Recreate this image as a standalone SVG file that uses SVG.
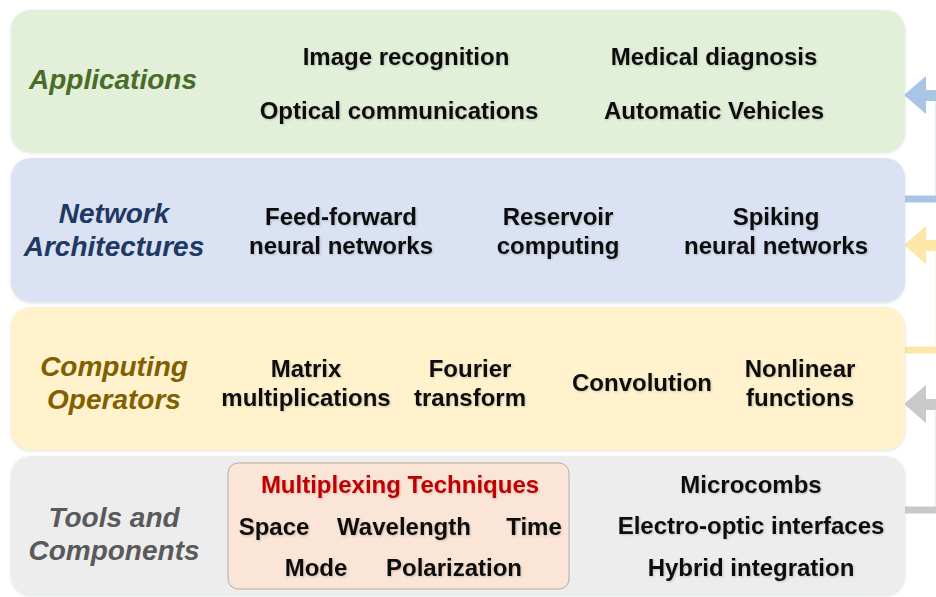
<svg xmlns="http://www.w3.org/2000/svg" width="936" height="597" viewBox="0 0 936 597">
<defs>
<style>
.box{stroke:none}
.t{font-family:"Liberation Sans",Arial,sans-serif;font-weight:bold;font-size:24px;fill:#111;text-anchor:middle}
.h{font-family:"Liberation Sans",Arial,sans-serif;font-weight:bold;font-style:italic;font-size:28px;text-anchor:middle}
.conn{fill:none;stroke-width:7}
.vert{fill:none;stroke-width:1.5;opacity:0.5}
</style>
<filter id="sh" x="-5%" y="-10%" width="110%" height="120%">
<feDropShadow dx="0" dy="1" stdDeviation="1.5" flood-color="#9aa" flood-opacity="0.35"/>
</filter>
<filter id="ts" x="-5%" y="-20%" width="110%" height="140%">
<feDropShadow dx="1" dy="1" stdDeviation="1" flood-color="#000" flood-opacity="0.18"/>
</filter>
</defs>
<rect width="936" height="597" fill="#ffffff"/>
<g id="connectors">
<path class="vert" stroke="#cfdff2" d="M935.5 96 V199"/>
<path class="conn" stroke="#a9c5e6" d="M905 199 H936"/>
<path fill="#a9c5e6" d="M904 95 L926 76 V90 H936 V101 H926 V114 Z"/>
<path class="vert" stroke="#fdefc8" d="M935.5 246 V350"/>
<path class="conn" stroke="#fde7a8" d="M905 350 H936"/>
<path fill="#fde7a8" d="M904 245 L926 226 V240 H936 V251 H926 V264 Z"/>
<path class="vert" stroke="#e0e0e0" d="M935.5 404 V510"/>
<path class="conn" stroke="#c9c9c9" d="M905 510 H936"/>
<path fill="#c9c9c9" d="M904 404 L926 385 V399 H936 V410 H926 V423 Z"/>
</g>
<g id="applications" filter="url(#sh)">
<rect class="box" x="11" y="10" width="894" height="142" rx="20" fill="#e2efd9"/>
</g>
<g id="applications-text">
<text class="h" x="113" y="89" fill="#4b6b28">Applications</text>
<g filter="url(#ts)">
<text class="t" x="406" y="65">Image recognition</text>
<text class="t" x="714" y="65">Medical diagnosis</text>
<text class="t" x="399" y="119">Optical communications</text>
<text class="t" x="714" y="119">Automatic Vehicles</text>
</g>
</g>
<g id="network" filter="url(#sh)">
<rect class="box" x="11" y="158" width="894" height="144" rx="20" fill="#dae2f3"/>
</g>
<g id="network-text">
<text class="h" x="114" y="223" fill="#203864">Network</text>
<text class="h" x="114" y="256" fill="#203864">Architectures</text>
<g filter="url(#ts)">
<text class="t" x="341" y="225">Feed-forward</text>
<text class="t" x="341" y="254">neural networks</text>
<text class="t" x="558" y="225">Reservoir</text>
<text class="t" x="558" y="254">computing</text>
<text class="t" x="776" y="225">Spiking</text>
<text class="t" x="776" y="254">neural networks</text>
</g>
</g>
<g id="operators" filter="url(#sh)">
<rect class="box" x="11" y="307" width="894" height="143" rx="20" fill="#fff2cd"/>
</g>
<g id="operators-text">
<text class="h" x="114" y="376" fill="#806000">Computing</text>
<text class="h" x="114" y="409" fill="#806000">Operators</text>
<g filter="url(#ts)">
<text class="t" x="306" y="377">Matrix</text>
<text class="t" x="306" y="406">multiplications</text>
<text class="t" x="470" y="377">Fourier</text>
<text class="t" x="470" y="406">transform</text>
<text class="t" x="642" y="391">Convolution</text>
<text class="t" x="800" y="377">Nonlinear</text>
<text class="t" x="800" y="406">functions</text>
</g>
</g>
<g id="tools" filter="url(#sh)">
<rect class="box" x="11" y="456" width="894" height="139" rx="20" fill="#ededed"/>
</g>
<g id="tools-text">
<text class="h" x="114" y="527" fill="#5a5a5a">Tools and</text>
<text class="h" x="114" y="560" fill="#5a5a5a">Components</text>
</g>
<g id="multiplexing">
<rect x="228" y="463" width="341" height="126" rx="10" fill="#fbe5d6" stroke="#b7aba3" stroke-width="1"/>
<g filter="url(#ts)">
<text class="t" x="400" y="493" style="fill:#c00000">Multiplexing Techniques</text>
<text class="t" x="274" y="535">Space</text>
<text class="t" x="404" y="535">Wavelength</text>
<text class="t" x="534" y="535">Time</text>
<text class="t" x="316" y="576">Mode</text>
<text class="t" x="454" y="576">Polarization</text>
</g>
</g>
<g id="components">
<g filter="url(#ts)">
<text class="t" x="751" y="493">Microcombs</text>
<text class="t" x="751" y="534">Electro-optic interfaces</text>
<text class="t" x="751" y="576">Hybrid integration</text>
</g>
</g>
</svg>
